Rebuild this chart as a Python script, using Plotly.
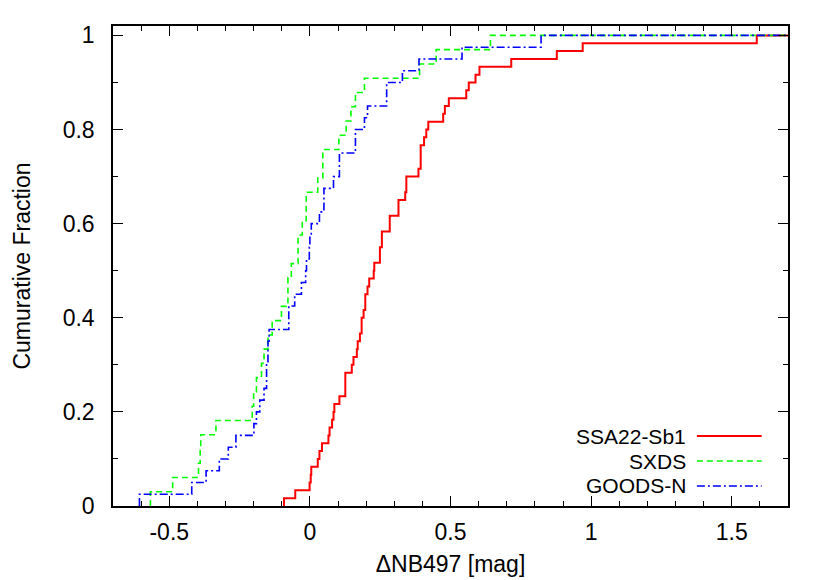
import plotly.graph_objects as go

# Sorted sample values (ΔNB497 [mag])
ssa22_values = [-0.092, -0.052, -0.001, 0.003, 0.005, 0.028, 0.034, 0.043, 0.066, 0.070,
                0.079, 0.084, 0.087, 0.105, 0.126, 0.126, 0.126, 0.149, 0.155, 0.167,
                0.170, 0.178, 0.184, 0.184, 0.191, 0.197, 0.197, 0.205, 0.211, 0.227,
                0.229, 0.249, 0.249, 0.256, 0.256, 0.284, 0.284, 0.315, 0.315, 0.339,
                0.343, 0.343, 0.386, 0.394, 0.394, 0.394, 0.406, 0.414, 0.421, 0.474,
                0.480, 0.494, 0.556, 0.565, 0.589, 0.603, 0.716, 0.878, 0.970, 1.589]
sxds_values = [-0.567, -0.488, -0.396, -0.390, -0.388, -0.334, -0.205, -0.200, -0.190, -0.172,
               -0.163, -0.149, -0.134, -0.101, -0.078, -0.078, -0.066, -0.042, -0.042, -0.027,
               -0.013, -0.013, 0.028, 0.046, 0.046, 0.103, 0.129, 0.146, 0.162, 0.194,
               0.390, 0.449, 0.642]
goodsn_values = [-0.606, -0.420, -0.369, -0.322, -0.290, -0.263, -0.199, -0.190, -0.178, -0.163,
                 -0.154, -0.154, -0.149, -0.149, -0.145, -0.075, -0.075, -0.054, -0.030, -0.015,
                 -0.012, -0.002, 0.000, 0.005, 0.034, 0.050, 0.050, 0.084, 0.105, 0.105,
                 0.162, 0.162, 0.194, 0.205, 0.273, 0.273, 0.329, 0.388, 0.541, 0.822]

series_names = ["SSA22-Sb1", "SXDS", "GOODS-N"]
series_values = [ssa22_values, sxds_values, goodsn_values]
series_colors = ["#ff0000", "#00ff00", "#0000ff"]
series_dash = ["solid", "6px,4px", "8px,3px,2px,3px"]
series_width = [2, 1.6, 1.6]

x_range = [-0.7, 1.7]
y_range = [0, 1.02]
x_tickvals = [-0.5, 0, 0.5, 1, 1.5]
x_ticktext = ["-0.5", "0", "0.5", "1", "1.5"]
y_tickvals = [0, 0.2, 0.4, 0.6, 0.8, 1.0]
y_ticktext = ["0", "0.2", "0.4", "0.6", "0.8", "1"]

FONT = "Liberation Sans, Arial, sans-serif"
FS = 23
LEG_FS = 21

fig = go.Figure()
for name, vals, col, dash, w in zip(series_names, series_values, series_colors, series_dash, series_width):
    n = len(vals)
    xs = [vals[0]] + list(vals) + [x_range[1]]
    ys = [0.0] + [(i + 1) / n for i in range(n)] + [1.0]
    fig.add_trace(go.Scatter(x=xs, y=ys, mode="lines", name=name,
                             line=dict(color=col, width=w, dash=dash, shape="hv"),
                             showlegend=False))

# Manual legend (gnuplot style: text right-aligned, sample on the right)
leg_y = [0.14583, 0.09375, 0.04167]
for name, col, dash, w, yy in zip(series_names, series_colors, series_dash, series_width, leg_y):
    fig.add_annotation(x=0.852, y=yy, xref="paper", yref="paper", text=name,
                       showarrow=False, xanchor="right", yanchor="middle",
                       font=dict(size=LEG_FS, color="black", family=FONT))
    fig.add_shape(type="line", xref="paper", yref="paper", x0=0.865, x1=0.961, y0=yy, y1=yy,
                  line=dict(color=col, width=w, dash=dash))

axis_common = dict(showline=True, linecolor="black", linewidth=1.5, mirror="allticks",
                   ticks="inside", ticklen=10, tickwidth=1.2, tickcolor="black",
                   showgrid=False, zeroline=False,
                   tickfont=dict(size=FS, color="black", family=FONT))

fig.update_xaxes(range=x_range, tickvals=x_tickvals, ticktext=x_ticktext, ticklabelstandoff=5,
                 minor=dict(ticks="inside", ticklen=5, dtick=0.1, tick0=0, tickcolor="black", tickwidth=1.2),
                 title=dict(text="ΔNB497 [mag]", font=dict(size=FS, color="black", family=FONT), standoff=12),
                 **axis_common)
fig.update_yaxes(range=y_range, tickvals=y_tickvals, ticktext=y_ticktext, ticklabelstandoff=12,
                 minor=dict(ticks="inside", ticklen=5, dtick=0.1, tick0=0, tickcolor="black", tickwidth=1.2),
                 title=dict(text="Cumurative Fraction", font=dict(size=FS, color="black", family=FONT), standoff=26),
                 **axis_common)

fig.update_layout(width=830, height=580, paper_bgcolor="white", plot_bgcolor="white",
                  margin=dict(l=105, r=50, t=18, b=82), showlegend=False,
                  font=dict(family=FONT, color="black"))

fig.write_html("out.html")
